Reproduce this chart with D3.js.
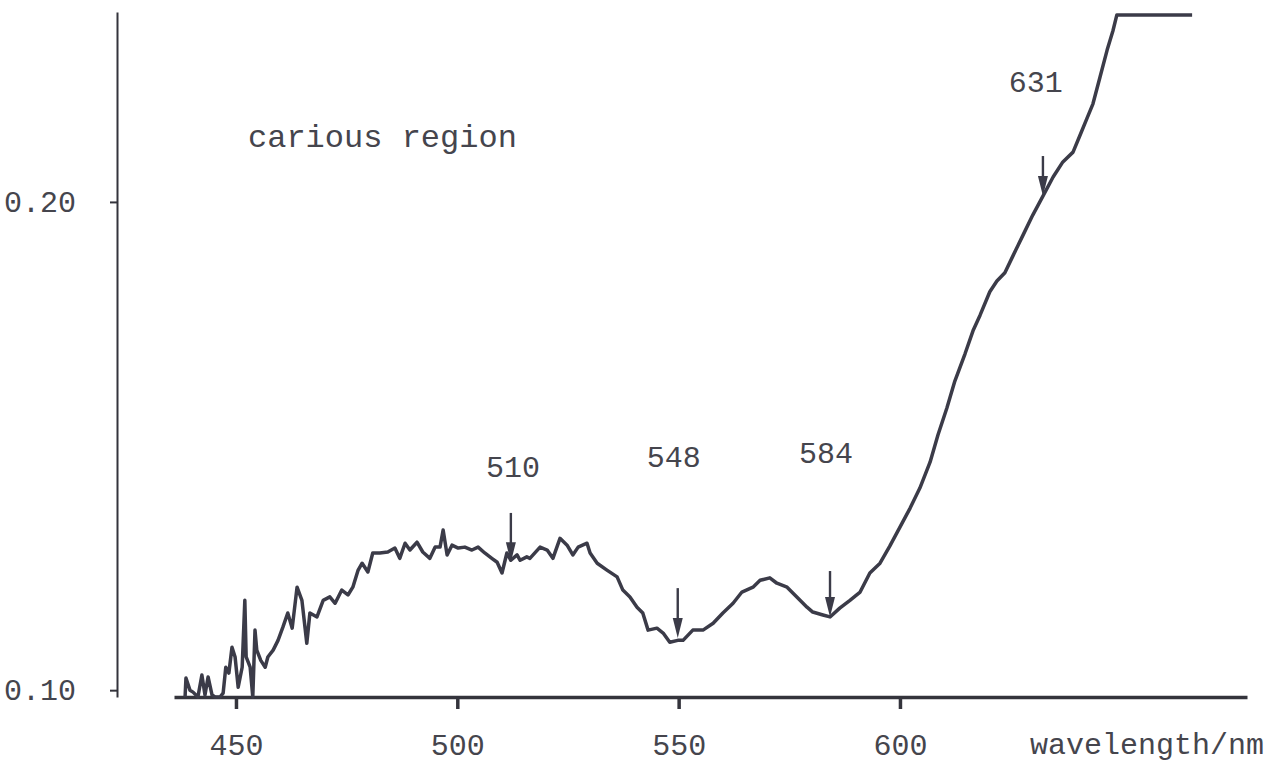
<!DOCTYPE html>
<html lang="en">
<meta charset="utf-8">
<style>
body { margin: 0; background: #fff; }
svg text {
   font-family: "Liberation Mono", "Courier New", monospace;
   font-size: 30px;
   fill: #45454d;
}
.note { font-size: 32px; }
.curve {
   fill: none;
   stroke: #3b3b48;
   stroke-width: 3.5px;
   stroke-linejoin: round;
}
.axis path, .axis line { stroke: #34343c; }
.yaxis path { stroke-width: 2px; }
.xaxis path, .xaxis line { stroke-width: 3.5px; }
.yaxis line { stroke-width: 2px; }
.arrow line { stroke: #3b3b48; stroke-width: 2.4px; }
.arrow path { fill: #3b3b48; }
</style>
<body>
<script src="https://d3js.org/d3.v7.min.js"></script>
<script>
"use strict";

// spectrum (wavelength in nm, absorbance)
const wavelength = [
  438.5, 438.7, 439.6, 440.3, 441.4, 442.3, 443.0, 443.7, 444.6, 445.3,
  446.4, 447.1, 447.7, 448.4, 449.1, 449.8, 450.5, 451.4, 452.0, 452.3,
  453.2, 453.8, 454.3, 454.7, 455.6, 456.6, 457.2, 458.4, 459.5, 460.6,
  461.7, 462.7, 463.8, 464.9, 466.0, 466.7, 468.3, 469.7, 471.2, 472.4,
  473.9, 475.3, 476.4, 477.6, 478.5, 479.8, 480.9, 482.5, 484.3, 485.9,
  487.0, 488.2, 489.3, 490.9, 492.2, 493.8, 495.0, 496.1, 496.8, 497.7,
  498.8, 500.2, 501.7, 503.3, 504.7, 506.2, 507.8, 509.0, 510.1, 511.2,
  512.1, 513.5, 514.2, 515.7, 516.4, 518.7, 520.3, 521.6, 523.2, 524.8,
  526.1, 527.3, 529.3, 530.0, 531.6, 533.8, 536.1, 537.4, 539.0, 540.6,
  541.9, 543.1, 545.1, 546.5, 548.0, 549.8, 551.0, 553.2, 555.5, 557.8,
  560.0, 562.3, 564.3, 566.8, 568.4, 570.6, 572.2, 574.5, 576.7, 579.0,
  580.3, 582.6, 584.2, 586.4, 588.7, 591.0, 593.2, 595.5, 597.7, 600.0,
  602.3, 604.5, 606.8, 608.6, 610.6, 612.4, 614.7, 616.5, 618.1, 620.3,
  621.9, 623.7, 625.5, 627.8, 630.0, 632.3, 634.6, 636.8, 639.1, 640.7,
  642.2, 643.6, 645.2, 646.8, 648.1, 649.0, 666.0
];
const absorbance = [
  0.0986, 0.1025, 0.1000, 0.0996, 0.0986, 0.1031, 0.0990, 0.1027, 0.0990, 0.0986,
  0.0986, 0.0994, 0.1047, 0.1035, 0.1088, 0.1068, 0.1006, 0.1047, 0.1184, 0.1068,
  0.1047, 0.0986, 0.1123, 0.1082, 0.1061, 0.1047, 0.1068, 0.1082, 0.1102, 0.1129,
  0.1158, 0.1127, 0.1211, 0.1184, 0.1096, 0.1158, 0.1150, 0.1184, 0.1191, 0.1178,
  0.1205, 0.1195, 0.1211, 0.1246, 0.1260, 0.1242, 0.1281, 0.1281, 0.1283, 0.1291,
  0.1270, 0.1301, 0.1287, 0.1303, 0.1283, 0.1270, 0.1293, 0.1293, 0.1328, 0.1277,
  0.1297, 0.1291, 0.1293, 0.1287, 0.1293, 0.1281, 0.1270, 0.1262, 0.1240, 0.1281,
  0.1266, 0.1277, 0.1266, 0.1273, 0.1270, 0.1293, 0.1287, 0.1270, 0.1311, 0.1297,
  0.1277, 0.1293, 0.1301, 0.1281, 0.1260, 0.1246, 0.1232, 0.1205, 0.1191, 0.1170,
  0.1158, 0.1123, 0.1127, 0.1117, 0.1098, 0.1102, 0.1102, 0.1123, 0.1123, 0.1137,
  0.1158, 0.1178, 0.1201, 0.1211, 0.1225, 0.1230, 0.1219, 0.1211, 0.1191, 0.1170,
  0.1160, 0.1154, 0.1150, 0.1168, 0.1184, 0.1201, 0.1240, 0.1260, 0.1295, 0.1334,
  0.1373, 0.1414, 0.1467, 0.1523, 0.1578, 0.1633, 0.1689, 0.1736, 0.1768, 0.1816,
  0.1838, 0.1855, 0.1889, 0.1932, 0.1973, 0.2012, 0.2051, 0.2082, 0.2102, 0.2137,
  0.2170, 0.2201, 0.2256, 0.2311, 0.2350, 0.2383, 0.2383
];

// marked bands: label, arrow wavelength, arrow top / tip, label position
const peakLabels = ["510", "548", "584", "631"];
const peakAt     = [512.1, 549.8, 584.2, 632.3];
const arrowTop   = [0.1363, 0.1209, 0.1244, 0.2094];
const arrowTip   = [0.1262, 0.1107, 0.1150, 0.2012];
const labelAt    = [512.6, 548.9, 583.3, 630.7];
const labelVal   = [0.1436, 0.1457, 0.1465, 0.2225];

const xTicks = [450, 500, 550, 600];
const yTicks = [0.10, 0.20];

var width = 1281, height = 763;

var svg = d3.select("body").append("svg")
    .attr("width", width)
    .attr("height", height);

var x = d3.scaleLinear().domain([436, 678.4]).range([174, 1247]);
var y = d3.scaleLinear().domain([0.0986, 0.2389]).range([697, 12]);

// y axis, off to the left of the trace
svg.append("g")
    .attr("class", "axis yaxis")
    .attr("transform", "translate(117,0)")
    .call(d3.axisLeft(y).tickValues(yTicks).tickFormat(d3.format(".2f"))
        .tickSize(7).tickSizeOuter(0).tickPadding(34))
  .call(g => g.selectAll("text").attr("font-family", null).attr("font-size", null).attr("fill", null));

svg.append("g")
    .attr("class", "axis xaxis")
    .attr("transform", "translate(0," + y(0.0986) + ")")
    .call(d3.axisBottom(x).tickValues(xTicks).tickFormat(d3.format("d"))
        .tickSize(12).tickSizeOuter(0).tickPadding(25))
  .call(g => g.selectAll("text").attr("font-family", null).attr("font-size", null).attr("fill", null));

svg.append("text")
    .attr("x", 1030).attr("y", 754)
    .text("wavelength/nm");

svg.append("text")
    .attr("class", "note")
    .attr("x", 248).attr("y", 147)
    .text("carious region");

var line = d3.line()
    .x(i => x(wavelength[i]))
    .y(i => y(absorbance[i]));

svg.append("path")
    .attr("class", "curve")
    .attr("d", line(d3.range(wavelength.length)));

// arrows for the bands
var arrows = svg.selectAll(".arrow")
    .data(d3.range(peakLabels.length))
  .enter().append("g")
    .attr("class", "arrow");

arrows.append("line")
    .attr("x1", i => x(peakAt[i])).attr("x2", i => x(peakAt[i]))
    .attr("y1", i => y(arrowTop[i])).attr("y2", i => y(arrowTip[i]) - 10);

arrows.append("path")
    .attr("d", function(i) {
      var cx = x(peakAt[i]), ty = y(arrowTip[i]);
      return "M" + (cx - 5) + "," + (ty - 20) + "L" + (cx + 5) + "," + (ty - 20) + "L" + cx + "," + ty + "Z";
    });

svg.selectAll(".peak")
    .data(d3.range(peakLabels.length))
  .enter().append("text")
    .attr("class", "peak")
    .attr("x", i => x(labelAt[i]))
    .attr("y", i => y(labelVal[i]))
    .attr("text-anchor", "middle")
    .text(i => peakLabels[i]);
</script>
</body>
</html>
